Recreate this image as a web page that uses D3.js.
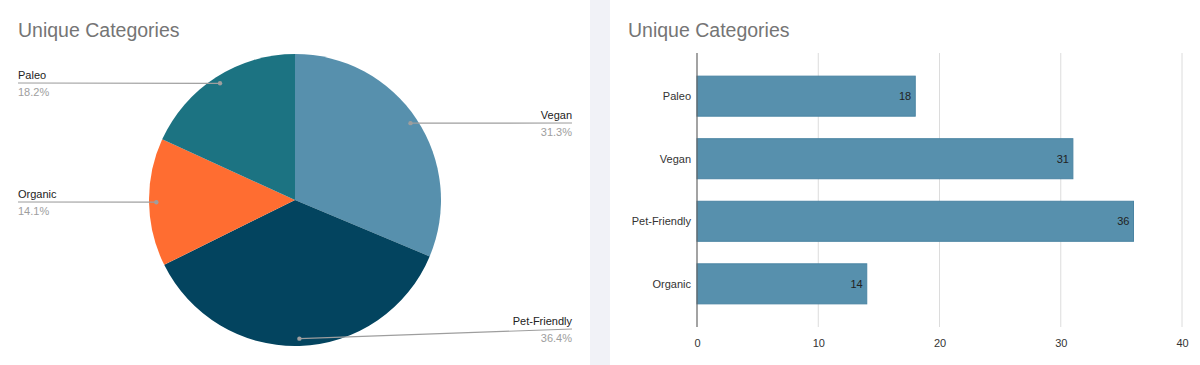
<!DOCTYPE html>
<html>
<head>
<meta charset="utf-8">
<script src="https://cdn.jsdelivr.net/npm/d3@7"></script>
<style>
  body { margin: 0; background: #fff; font-family: Arial, "Liberation Sans", sans-serif; }
  svg { display: block; }
</style>
</head>
<body>
<div id="chart"></div>
<script>
// data
let categories = ['Paleo', 'Vegan', 'Pet-Friendly', 'Organic'];
let counts = [18, 31, 36, 14];
let pieOrder = ['Vegan', 'Pet-Friendly', 'Organic', 'Paleo'];
let pieColors = ['#5790ad', '#03445f', '#ff6d31', '#1c7382'];
let xTicks = [0, 10, 20, 30, 40];
let title = 'Unique Categories';

let width = 1200, height = 365;

let svg = d3.select('#chart').append('svg')
    .attr('width', width)
    .attr('height', height);

// gray gap between the two panels
svg.append('rect')
    .attr('x', 590).attr('y', 0)
    .attr('width', 20).attr('height', height)
    .attr('fill', '#f1f2f7');

svg.selectAll('text.title')
    .data([18, 628])
    .enter().append('text')
    .classed('title', true)
    .attr('x', d => d)
    .attr('y', 37)
    .attr('fill', '#757575')
    .style('font-size', '19.5px')
    .text(title);

// ---- pie ----
let total = d3.sum(counts);
let pieData = pieOrder.map(c => ({name: c, value: counts[categories.indexOf(c)]}));
let cx = 295, cy = 200, r = 146;

let pie = d3.pie().sort(null).value(d => d.value);
let arc = d3.arc().innerRadius(0).outerRadius(r);
let color = d3.scaleOrdinal().domain(pieOrder).range(pieColors);

let pg = svg.append('g').attr('transform', `translate(${cx},${cy})`);
let arcs = pie(pieData);

pg.selectAll('path')
    .data(arcs)
    .enter().append('path')
    .attr('d', arc)
    .attr('fill', d => color(d.data.name));

// leader lines
let labelPos = {
  'Paleo':        {x: 18,  y: 83,  anchor: 'start'},
  'Organic':      {x: 18,  y: 202, anchor: 'start'},
  'Vegan':        {x: 572, y: 123, anchor: 'end'},
  'Pet-Friendly': {x: 572, y: 331, anchor: 'end'}
};
let fmt = d3.format('.1f');

arcs.forEach(d => {
  let a = (d.startAngle + d.endAngle) / 2;
  let px = cx + Math.sin(a) * r * 0.95,
      py = cy - Math.cos(a) * r * 0.95;
  let lp = labelPos[d.data.name];
  let ly = d.data.name === 'Pet-Friendly' ? lp.y - 2 : lp.y;
  svg.append('line')
      .attr('x1', px).attr('y1', py)
      .attr('x2', lp.x).attr('y2', ly)
      .attr('stroke', '#9e9e9e').attr('stroke-width', 1.2);
  svg.append('circle')
      .attr('cx', px).attr('cy', py).attr('r', 2.2)
      .attr('fill', '#9e9e9e');
  svg.append('text')
      .attr('x', lp.x).attr('y', ly - 4)
      .attr('text-anchor', lp.anchor)
      .attr('fill', '#222')
      .style('font-size', '11px')
      .text(d.data.name);
  svg.append('text')
      .attr('x', lp.x).attr('y', ly + 13)
      .attr('text-anchor', lp.anchor)
      .attr('fill', '#9e9e9e')
      .style('font-size', '11px')
      .text(fmt(d.data.value / total * 100) + '%');
});

// ---- bars ----
let x = d3.scaleLinear().domain([0, 40]).range([697, 1182]);
let y = d3.scaleBand().domain(categories).range([53, 327])
    .paddingInner(0.36).paddingOuter(0.37);

let bg = svg.append('g');

bg.selectAll('line.grid')
    .data(xTicks.slice(1))
    .enter().append('line')
    .classed('grid', true)
    .attr('x1', d => x(d)).attr('x2', d => x(d))
    .attr('y1', 53).attr('y2', 327)
    .attr('stroke', '#dcdcdc').attr('stroke-width', 1);

bg.selectAll('rect.bar')
    .data(categories)
    .enter().append('rect')
    .classed('bar', true)
    .attr('x', x(0))
    .attr('y', d => y(d))
    .attr('width', d => x(counts[categories.indexOf(d)]) - x(0))
    .attr('height', y.bandwidth())
    .attr('fill', '#5790ad')
    .attr('stroke', '#4a84a3')
    .attr('stroke-width', 1);

bg.selectAll('text.val')
    .data(categories)
    .enter().append('text')
    .classed('val', true)
    .attr('x', d => x(counts[categories.indexOf(d)]) - 4)
    .attr('y', d => y(d) + y.bandwidth() / 2 + 4)
    .attr('text-anchor', 'end')
    .attr('fill', '#222')
    .style('font-size', '11px')
    .text(d => counts[categories.indexOf(d)]);

bg.selectAll('text.cat')
    .data(categories)
    .enter().append('text')
    .classed('cat', true)
    .attr('x', 691)
    .attr('y', d => y(d) + y.bandwidth() / 2 + 4)
    .attr('text-anchor', 'end')
    .attr('fill', '#333')
    .style('font-size', '11px')
    .text(d => d);

let xAxis = bg.append('g')
    .attr('transform', 'translate(0,327)')
    .call(d3.axisBottom(x).tickValues(xTicks).tickSize(0).tickPadding(12));
xAxis.select('.domain').remove();
xAxis.selectAll('text').attr('fill', '#333').style('font-size', '11px')
    .style('font-family', 'Arial, "Liberation Sans", sans-serif');

bg.append('line')
    .attr('x1', x(0)).attr('x2', x(0))
    .attr('y1', 53).attr('y2', 327)
    .attr('stroke', '#666').attr('stroke-width', 1.2);
</script>
</body>
</html>
